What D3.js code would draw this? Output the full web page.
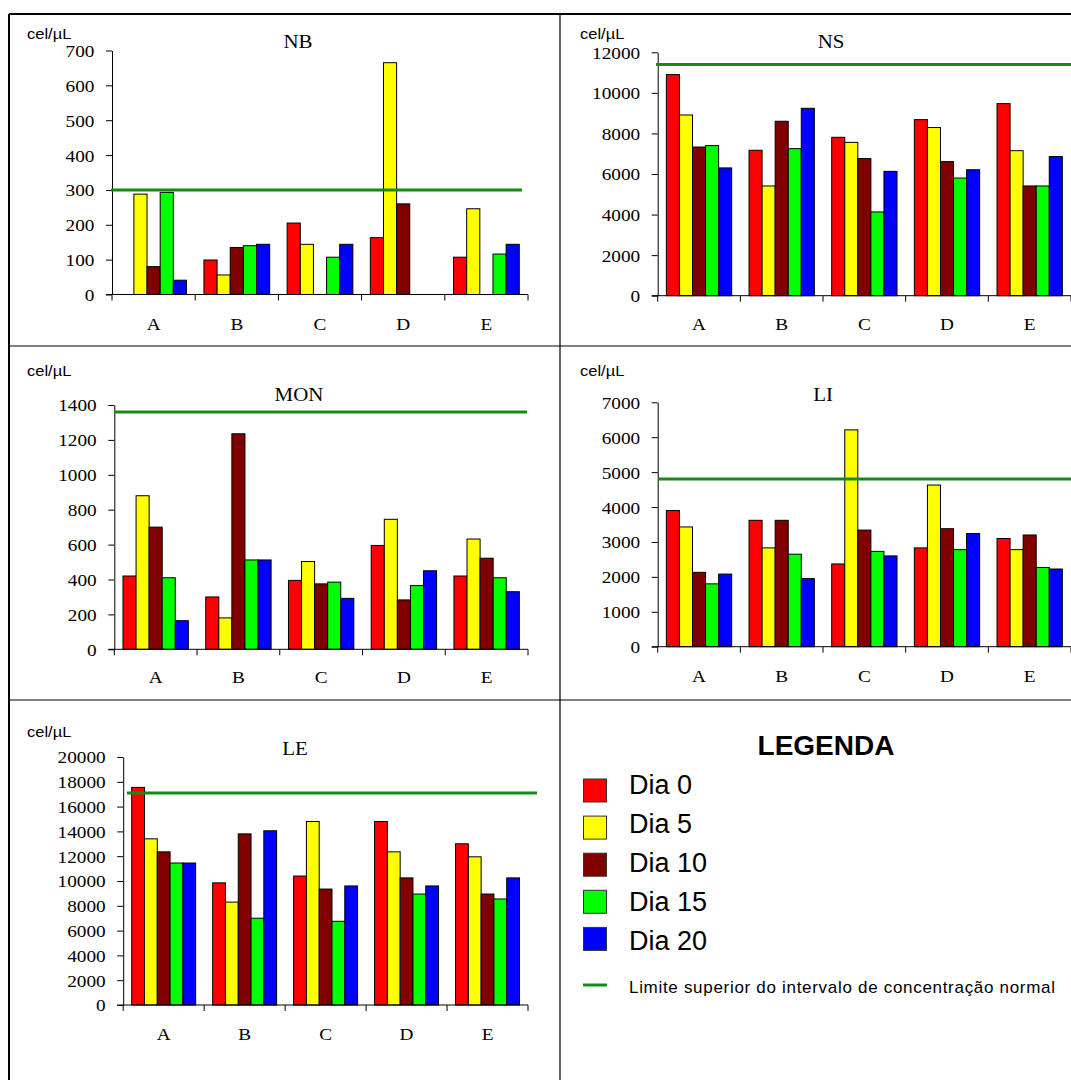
<!DOCTYPE html>
<meta charset="utf-8">
<style>
  body { margin: 0; background: #fff; }
  .tick line, .domain { stroke: #000; }
  .bar { stroke: #000; stroke-width: 1px; }
  .limit { stroke: #168a16; stroke-width: 3px; }
  .serif { font-family: "Liberation Serif", "Times New Roman", serif; }
  .sans { font-family: "Liberation Sans", Arial, sans-serif; }
</style>
<body>
<script src="https://d3js.org/d3.v7.min.js"></script>
<script>
  // categories and series
  var categories = ["A", "B", "C", "D", "E"];
  var series = ["Dia 0", "Dia 5", "Dia 10", "Dia 15", "Dia 20"];
  var colors = ["#ff0000", "#ffff00", "#800000", "#00ff00", "#0000ff"];

  // values per category (rows) and day (columns)
  var nbValues = [[0, 288, 80, 293, 41], [99, 56, 135, 140, 144], [205, 144, 0, 107, 144], [163, 665, 260, 0, 0], [107, 246, 0, 116, 144]];
  var nsValues = [[10900, 8910, 7330, 7400, 6300], [7170, 5410, 8600, 7250, 9240], [7810, 7560, 6760, 4130, 6130], [8680, 8290, 6610, 5800, 6210], [9470, 7150, 5410, 5410, 6860]];
  var monValues = [[420, 880, 700, 410, 164], [300, 180, 1235, 512, 512], [395, 503, 375, 385, 292], [595, 745, 283, 365, 450], [420, 632, 522, 410, 330]];
  var liValues = [[3900, 3430, 2130, 1800, 2080], [3620, 2830, 3620, 2650, 1950], [2370, 6210, 3340, 2730, 2600], [2830, 4630, 3380, 2780, 3240], [3100, 2780, 3200, 2270, 2225]];
  var leValues = [[17550, 13400, 12350, 11450, 11450], [9850, 8300, 13800, 7000, 14050], [10400, 14800, 9350, 6750, 9600], [14800, 12350, 10250, 8950, 9600], [13000, 11950, 8950, 8550, 10250]];

  // upper limit of normal range
  var limits = { NB: 300, NS: 11400, MON: 1360, LI: 4800, LE: 17100 };
  var yMax = { NB: 700, NS: 12000, MON: 1400, LI: 7000, LE: 20000 };
  var yStep = { NB: 100, NS: 2000, MON: 200, LI: 1000, LE: 2000 };

  var unitLabel = "cel/\u00b5L";
  var limitLabel = "Limite superior do intervalo de concentra\u00e7\u00e3o normal";

  var svg = d3.select("body").append("svg")
    .attr("width", 1071)
    .attr("height", 1080);

  var sx = 1.1; // the original chart text is a bit stretched

  // frame of the grid
  var frame = svg.append("g").attr("stroke", "#000").attr("fill", "none");
  frame.append("line").attr("x1", 9).attr("x2", 1071).attr("y1", 14).attr("y2", 14).attr("stroke-width", 2);
  frame.append("line").attr("x1", 9).attr("x2", 9).attr("y1", 14).attr("y2", 1080).attr("stroke-width", 2);
  frame.append("line").attr("x1", 560).attr("x2", 560).attr("y1", 14).attr("y2", 1080).attr("stroke-width", 1.2);
  frame.append("line").attr("x1", 9).attr("x2", 1071).attr("y1", 346).attr("y2", 346).attr("stroke-width", 1.2);
  frame.append("line").attr("x1", 9).attr("x2", 1071).attr("y1", 700).attr("y2", 700).attr("stroke-width", 1.2);

  function stretchedText(g, x, y, txt, cls, size, anchor) {
    return g.append("text")
      .attr("class", cls)
      .attr("transform", "translate(" + x + "," + y + ") scale(" + sx + ",1)")
      .attr("font-size", size)
      .attr("text-anchor", anchor || "start")
      .text(txt);
  }

  function drawPanel(name, values, p) {
    var g = svg.append("g");

    var x0 = d3.scaleBand().domain(categories).range([p.left, p.right]).padding(0);
    var pad = x0.bandwidth() * 0.105;
    var x1 = d3.scaleBand().domain(series).range([pad, x0.bandwidth() - pad]).padding(0);
    var y = d3.scaleLinear().domain([0, yMax[name]]).range([p.bottom, p.top]);

    // bars
    var groups = g.selectAll(".grp")
      .data(values)
      .enter().append("g")
      .attr("transform", function (d, i) { return "translate(" + x0(categories[i]) + ",0)"; });

    groups.selectAll("rect")
      .data(function (d) { return d; })
      .enter().append("rect")
      .attr("class", "bar")
      .attr("x", function (d, j) { return x1(series[j]); })
      .attr("width", x1.bandwidth())
      .attr("y", function (d) { return y(d); })
      .attr("height", function (d) { return y(0) - y(d); })
      .attr("fill", function (d, j) { return colors[j]; });

    // y axis
    var ticks = d3.range(0, yMax[name] + 1, yStep[name]);
    var yAxis = g.append("g")
      .attr("transform", "translate(" + p.left + ",0)")
      .call(d3.axisLeft(y).tickValues(ticks).tickSize(6).tickSizeOuter(0).tickFormat(d3.format("d")).tickPadding(10));
    yAxis.selectAll("text")
      .attr("class", "serif")
      .attr("font-size", 17.5)
      .attr("fill", "#000")
      .attr("dy", "0.34em")
      .attr("transform", "scale(" + sx + ",1)");

    // x axis line and boundary ticks
    var xAxis = g.append("g")
      .attr("transform", "translate(0," + p.bottom + ")");
    xAxis.append("line")
      .attr("x1", p.left - 6).attr("x2", p.right)
      .attr("stroke", "#000");
    var bounds = categories.map(function (c) { return x0(c); }).concat([x0(categories[categories.length - 1]) + x0.bandwidth()]);
    xAxis.selectAll(".bt")
      .data(bounds)
      .enter().append("line")
      .attr("x1", function (d) { return d; })
      .attr("x2", function (d) { return d; })
      .attr("y1", 0).attr("y2", 6)
      .attr("stroke", "#000");

    // category labels
    var labels = g.append("g")
      .attr("transform", "translate(0," + p.bottom + ")")
      .call(d3.axisBottom(x0).tickSize(0).tickPadding(p.labelY - p.bottom - 12.5));
    labels.select(".domain").remove();
    labels.selectAll("text")
      .attr("class", "serif")
      .attr("font-size", 17.5)
      .attr("fill", "#000")
      .attr("transform", "scale(" + sx + ",1)");

    // limit line
    g.append("line")
      .attr("class", "limit")
      .attr("x1", p.limitX0).attr("x2", p.limitX1)
      .attr("y1", y(limits[name])).attr("y2", y(limits[name]));

    // title and unit
    stretchedText(g, p.titleX, p.titleY, name, "serif", 19, "middle");
    stretchedText(g, p.unitX, p.unitY, unitLabel, "sans", 15, "start");
  }

  drawPanel("NB", nbValues, { left: 112, right: 528, top: 50.5, bottom: 294.5, titleX: 298, titleY: 48, unitX: 27, unitY: 39, labelY: 330, limitX0: 111, limitX1: 522 });
  drawPanel("NS", nsValues, { left: 657.7, right: 1071, top: 52.3, bottom: 295.7, titleX: 831, titleY: 48, unitX: 580, unitY: 39, labelY: 330, limitX0: 656, limitX1: 1075 });
  drawPanel("MON", monValues, { left: 114.3, right: 528, top: 405, bottom: 649.3, titleX: 299, titleY: 401, unitX: 27, unitY: 376, labelY: 683, limitX0: 114, limitX1: 527 });
  drawPanel("LI", liValues, { left: 657.7, right: 1071, top: 402.3, bottom: 646.7, titleX: 823, titleY: 401, unitX: 580, unitY: 376, labelY: 682, limitX0: 659, limitX1: 1075 });
  drawPanel("LE", leValues, { left: 123.2, right: 528, top: 757, bottom: 1005, titleX: 295, titleY: 755, unitX: 27, unitY: 737, labelY: 1040, limitX0: 127, limitX1: 537 });

  // legend
  var legend = svg.append("g");
  legend.append("text")
    .attr("class", "sans")
    .attr("x", 826).attr("y", 755)
    .attr("text-anchor", "middle")
    .attr("font-size", 28)
    .attr("font-weight", "bold")
    .text("LEGENDA");

  var rows = legend.selectAll(".row")
    .data(series)
    .enter().append("g");
  rows.append("rect")
    .attr("x", 583.5)
    .attr("y", function (d, i) { return 779 + i * 37.1; })
    .attr("width", 23)
    .attr("height", 23)
    .attr("fill", function (d, i) { return colors[i]; })
    .attr("stroke", "#333");
  rows.append("text")
    .attr("class", "sans")
    .attr("x", 629)
    .attr("y", function (d, i) { return 794 + i * 39; })
    .attr("font-size", 27)
    .text(function (d) { return d; });

  legend.append("line")
    .attr("class", "limit")
    .attr("x1", 583).attr("x2", 607)
    .attr("y1", 985).attr("y2", 985);
  legend.append("text")
    .attr("class", "sans")
    .attr("x", 629).attr("y", 993)
    .attr("font-size", 17)
    .attr("textLength", 426)
    .attr("lengthAdjust", "spacing")
    .text(limitLabel);
</script>
</body>
